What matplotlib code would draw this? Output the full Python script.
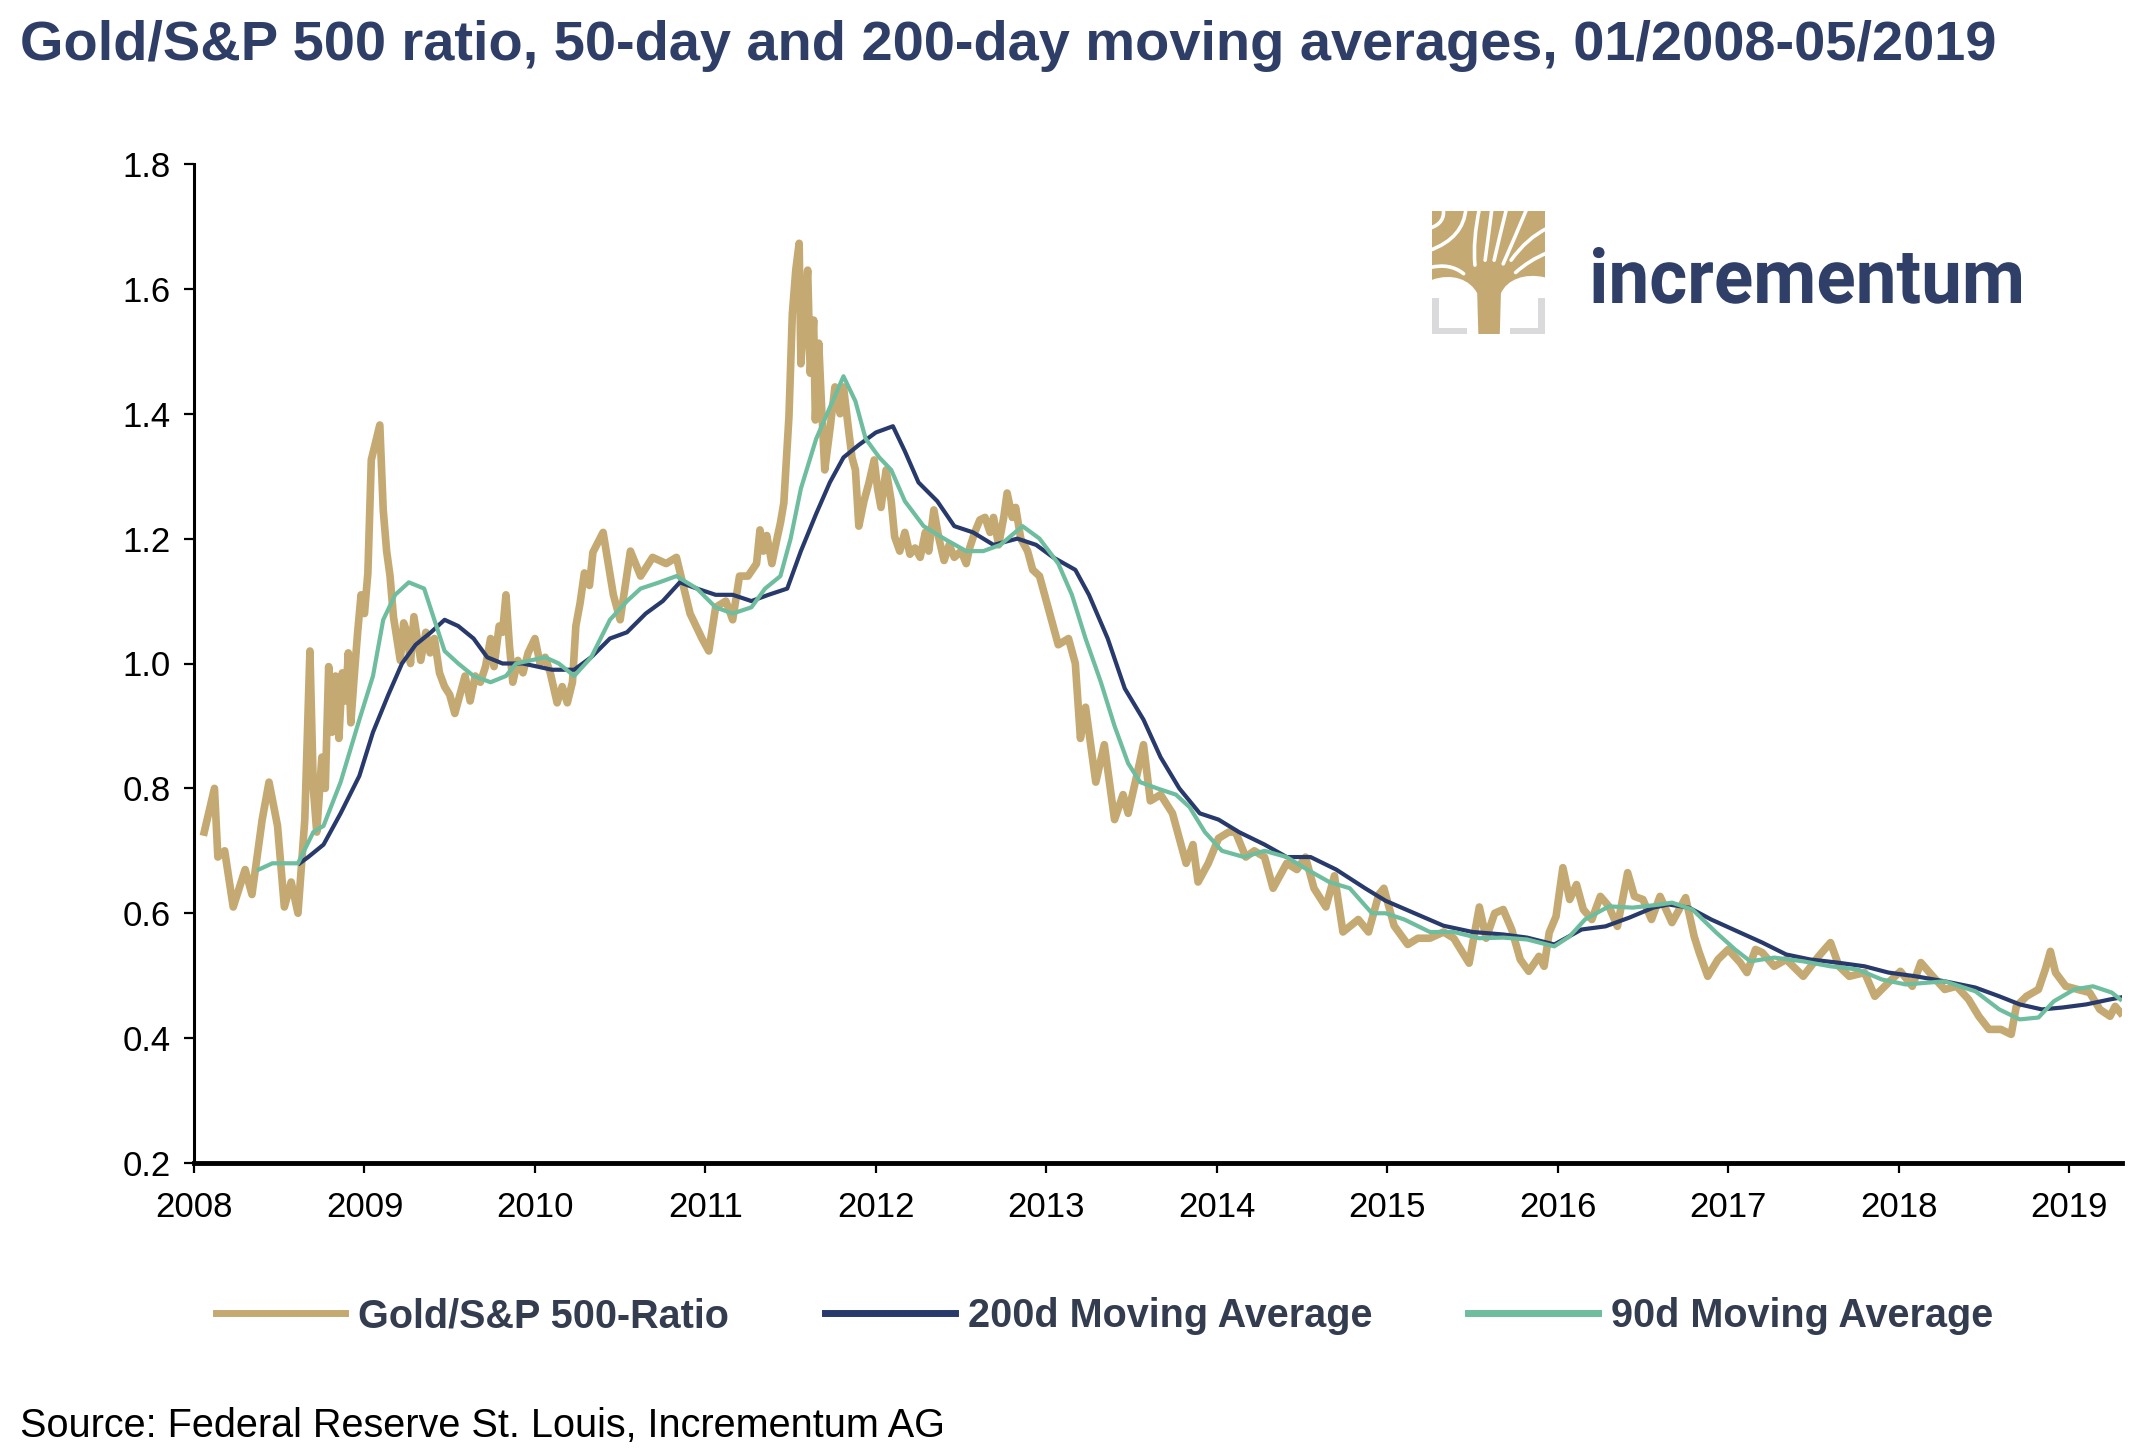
import numpy as np
import matplotlib
matplotlib.use("Agg")
import matplotlib.pyplot as plt
from matplotlib.patches import PathPatch, Rectangle
from matplotlib.path import Path
from matplotlib.textpath import TextPath
from matplotlib.font_manager import FontProperties
from matplotlib.transforms import Affine2D

plt.rcParams['font.family'] = ['Liberation Sans', 'DejaVu Sans']

# ---- data (decimal years) ----
ratio_t = [
    2008.06, 2008.12, 2008.14, 2008.18, 2008.23, 2008.30, 2008.34, 2008.40, 2008.44, 2008.49,
    2008.53, 2008.57, 2008.61, 2008.65, 2008.68, 2008.70, 2008.72, 2008.75, 2008.77, 2008.79,
    2008.81, 2008.83, 2008.85, 2008.87, 2008.89, 2008.905, 2008.92, 2008.94, 2008.96, 2008.98,
    2009.00, 2009.02, 2009.04, 2009.07, 2009.09, 2009.11, 2009.13, 2009.15, 2009.17, 2009.19,
    2009.21, 2009.23, 2009.25, 2009.27, 2009.29, 2009.31, 2009.33, 2009.36, 2009.385, 2009.41,
    2009.44, 2009.47, 2009.50, 2009.53, 2009.56, 2009.59, 2009.62, 2009.65, 2009.68, 2009.71,
    2009.74, 2009.76, 2009.79, 2009.81, 2009.83, 2009.85, 2009.87, 2009.90, 2009.93, 2009.96,
    2010.00, 2010.03, 2010.06, 2010.09, 2010.13, 2010.16, 2010.19, 2010.22, 2010.24, 2010.265,
    2010.29, 2010.32, 2010.34, 2010.40, 2010.46, 2010.50, 2010.56, 2010.62, 2010.69, 2010.77,
    2010.83, 2010.91, 2010.98, 2011.02, 2011.06, 2011.12, 2011.16, 2011.20, 2011.25, 2011.30,
    2011.32, 2011.34, 2011.36, 2011.39, 2011.42, 2011.44, 2011.46, 2011.49, 2011.51, 2011.53,
    2011.55, 2011.56, 2011.58, 2011.60, 2011.615, 2011.635, 2011.645, 2011.665, 2011.68, 2011.70,
    2011.73, 2011.76, 2011.79, 2011.81, 2011.84, 2011.86, 2011.88, 2011.90, 2011.93, 2011.96,
    2011.99, 2012.01, 2012.03, 2012.06, 2012.09, 2012.11, 2012.14, 2012.17, 2012.20, 2012.23,
    2012.26, 2012.29, 2012.31, 2012.34, 2012.37, 2012.40, 2012.43, 2012.46, 2012.50, 2012.53,
    2012.55, 2012.58, 2012.61, 2012.64, 2012.67, 2012.69, 2012.72, 2012.75, 2012.77, 2012.80,
    2012.82, 2012.85, 2012.89, 2012.92, 2012.96, 2013.00, 2013.07, 2013.13, 2013.17,
    2013.20, 2013.23, 2013.29, 2013.34, 2013.40, 2013.45, 2013.48, 2013.53, 2013.57, 2013.61,
    2013.67, 2013.74, 2013.78, 2013.82, 2013.86, 2013.89, 2013.95, 2014.01, 2014.07, 2014.11,
    2014.17, 2014.22, 2014.28, 2014.33, 2014.41, 2014.47, 2014.52, 2014.57, 2014.64, 2014.69,
    2014.74, 2014.83, 2014.89, 2014.95, 2014.98, 2015.04, 2015.12, 2015.18, 2015.25, 2015.33,
    2015.39, 2015.48, 2015.54, 2015.58, 2015.63,
    2015.68, 2015.73, 2015.78, 2015.83, 2015.89, 2015.92, 2015.95, 2015.99, 2016.03, 2016.07,
    2016.11, 2016.15, 2016.20, 2016.25, 2016.30, 2016.35, 2016.41, 2016.45, 2016.50, 2016.55,
    2016.60, 2016.67, 2016.75, 2016.80, 2016.83, 2016.88, 2016.94, 2017.00, 2017.07, 2017.11,
    2017.16, 2017.20, 2017.27, 2017.34, 2017.44, 2017.53, 2017.60, 2017.65, 2017.71, 2017.80,
    2017.86, 2017.94, 2018.01, 2018.08, 2018.13, 2018.20, 2018.27, 2018.34, 2018.41, 2018.47,
    2018.53, 2018.60, 2018.66, 2018.69, 2018.75, 2018.82, 2018.86, 2018.89, 2018.92, 2018.98,
    2019.05, 2019.12, 2019.18, 2019.24, 2019.27, 2019.30,
]
ratio_v = [
    0.73, 0.80, 0.69, 0.70, 0.61, 0.67, 0.63, 0.75, 0.81, 0.74,
    0.61, 0.65, 0.60, 0.75, 1.02, 0.80, 0.73, 0.85, 0.80, 0.995,
    0.89, 0.98, 0.88, 0.985, 0.94, 1.017, 0.905, 0.98, 1.05, 1.11,
    1.08, 1.145, 1.326, 1.36, 1.382, 1.246, 1.18, 1.14, 1.075, 1.04,
    1.005, 1.065, 1.05, 1.00, 1.075, 1.04, 1.005, 1.05, 1.017, 1.04,
    0.985, 0.963, 0.95, 0.92, 0.95, 0.98, 0.94, 0.98, 0.97, 0.995,
    1.04, 0.995, 1.06, 1.05, 1.11, 1.03, 0.97, 1.005, 0.985, 1.017,
    1.04, 1.00, 1.01, 0.985, 0.937, 0.963, 0.937, 0.97, 1.06, 1.097,
    1.145, 1.125, 1.178, 1.21, 1.11, 1.07, 1.18, 1.14, 1.17, 1.16,
    1.17, 1.08, 1.04, 1.02, 1.09, 1.10, 1.07, 1.14, 1.14, 1.16,
    1.214, 1.18, 1.205, 1.16, 1.20, 1.225, 1.257, 1.395, 1.56, 1.63,
    1.673, 1.48, 1.56, 1.63, 1.465, 1.55, 1.39, 1.513, 1.42, 1.31,
    1.374, 1.443, 1.40, 1.443, 1.374, 1.33, 1.31, 1.22, 1.26, 1.29,
    1.326, 1.28, 1.25, 1.31, 1.26, 1.203, 1.18, 1.21, 1.175, 1.185,
    1.17, 1.21, 1.18, 1.246, 1.20, 1.165, 1.19, 1.17, 1.18, 1.16,
    1.185, 1.21, 1.23, 1.234, 1.21, 1.234, 1.19, 1.234, 1.273, 1.234,
    1.25, 1.20, 1.18, 1.15, 1.14, 1.10, 1.03, 1.04, 1.00,
    0.88, 0.93, 0.81, 0.87, 0.75, 0.79, 0.76, 0.82, 0.87, 0.78,
    0.79, 0.76, 0.72, 0.68, 0.71, 0.65, 0.68, 0.72, 0.73, 0.73,
    0.69, 0.70, 0.69, 0.64, 0.68, 0.67, 0.69, 0.64, 0.61, 0.66,
    0.57, 0.59, 0.57, 0.63, 0.64, 0.58, 0.55, 0.56, 0.56, 0.57,
    0.56, 0.52, 0.61, 0.56, 0.60,
    0.606, 0.574, 0.526, 0.507, 0.531, 0.515, 0.569, 0.595, 0.673, 0.622,
    0.646, 0.606, 0.590, 0.627, 0.611, 0.579, 0.665, 0.627, 0.622, 0.590,
    0.627, 0.585, 0.625, 0.563, 0.537, 0.499, 0.526, 0.542, 0.521, 0.505,
    0.542, 0.537, 0.515, 0.526, 0.499, 0.531, 0.553, 0.515, 0.499, 0.505,
    0.467, 0.489, 0.507, 0.483, 0.521, 0.499, 0.478, 0.483, 0.462, 0.435,
    0.414, 0.414, 0.406, 0.451, 0.467, 0.478, 0.510, 0.539, 0.505, 0.483,
    0.478, 0.473, 0.446, 0.435, 0.451, 0.441,
]

ma200_t = [
    2008.62, 2008.67, 2008.76, 2008.86, 2008.97, 2009.05, 2009.14, 2009.22, 2009.30, 2009.39,
    2009.47, 2009.55, 2009.64, 2009.72, 2009.81, 2009.93, 2010.10, 2010.23, 2010.33, 2010.44,
    2010.54, 2010.65, 2010.75, 2010.85, 2010.95, 2011.06, 2011.16, 2011.27, 2011.37, 2011.48,
    2011.56, 2011.65, 2011.73, 2011.81, 2011.90, 2012.00, 2012.10, 2012.17, 2012.25, 2012.36,
    2012.46, 2012.57, 2012.69, 2012.83, 2012.94, 2013.04, 2013.17, 2013.25, 2013.36, 2013.46,
    2013.57, 2013.67, 2013.78, 2013.90, 2014.01, 2014.13, 2014.28, 2014.41, 2014.55, 2014.70,
    2014.87, 2014.99, 2015.16, 2015.33, 2015.50, 2015.68, 2015.82, 2015.98, 2016.14, 2016.28,
    2016.42, 2016.56, 2016.65, 2016.77, 2016.90, 2017.07, 2017.20, 2017.34, 2017.48, 2017.64,
    2017.80, 2017.94, 2018.10, 2018.27, 2018.45, 2018.59, 2018.71, 2018.84, 2018.96, 2019.10,
    2019.24, 2019.30,
]
ma200_v = [
    0.68, 0.69, 0.71, 0.76, 0.82, 0.89, 0.95, 1.00, 1.03, 1.05,
    1.07, 1.06, 1.04, 1.01, 1.00, 1.00, 0.99, 0.99, 1.01, 1.04,
    1.05, 1.08, 1.10, 1.13, 1.12, 1.11, 1.11, 1.10, 1.11, 1.12,
    1.18, 1.24, 1.29, 1.33, 1.35, 1.37, 1.38, 1.34, 1.29, 1.26,
    1.22, 1.21, 1.19, 1.20, 1.19, 1.17, 1.15, 1.11, 1.04, 0.96,
    0.91, 0.85, 0.80, 0.76, 0.75, 0.73, 0.71, 0.69, 0.69, 0.67,
    0.64, 0.62, 0.60, 0.58, 0.57, 0.566, 0.561, 0.550, 0.574, 0.579,
    0.593, 0.609, 0.614, 0.609, 0.590, 0.569, 0.553, 0.534, 0.526, 0.521,
    0.515, 0.505, 0.499, 0.491, 0.481, 0.467, 0.454, 0.446, 0.449, 0.454,
    0.462, 0.465,
]

ma90_t = [
    2008.38, 2008.46, 2008.61, 2008.70, 2008.76, 2008.86, 2008.97, 2009.05, 2009.11, 2009.18,
    2009.26, 2009.35, 2009.41, 2009.47, 2009.55, 2009.64, 2009.74, 2009.83, 2009.89, 2010.06,
    2010.14, 2010.23, 2010.33, 2010.44, 2010.54, 2010.62, 2010.73, 2010.83, 2010.95, 2011.06,
    2011.16, 2011.27, 2011.35, 2011.44, 2011.50, 2011.56, 2011.65, 2011.73, 2011.81, 2011.88,
    2011.94, 2012.02, 2012.09, 2012.17, 2012.28, 2012.40, 2012.53, 2012.63, 2012.73, 2012.86,
    2012.96, 2013.07, 2013.15, 2013.23, 2013.32, 2013.40, 2013.48, 2013.55, 2013.65, 2013.76,
    2013.84, 2013.93, 2014.03, 2014.16, 2014.28, 2014.41, 2014.53, 2014.66, 2014.78, 2014.91,
    2014.99, 2015.10, 2015.25, 2015.39, 2015.54, 2015.68, 2015.82, 2015.98, 2016.07, 2016.16,
    2016.30, 2016.44, 2016.60, 2016.67, 2016.79, 2016.93, 2017.04, 2017.13, 2017.27, 2017.44,
    2017.60, 2017.76, 2017.90, 2018.04, 2018.27, 2018.45, 2018.59, 2018.71, 2018.82, 2018.91,
    2019.03, 2019.14, 2019.25, 2019.30,
]
ma90_v = [
    0.67, 0.68, 0.68, 0.73, 0.74, 0.81, 0.91, 0.98, 1.07, 1.11,
    1.13, 1.12, 1.07, 1.02, 1.00, 0.98, 0.97, 0.98, 1.00, 1.01,
    1.00, 0.98, 1.01, 1.07, 1.10, 1.12, 1.13, 1.14, 1.12, 1.09,
    1.08, 1.09, 1.12, 1.14, 1.20, 1.28, 1.36, 1.41, 1.46, 1.42,
    1.36, 1.33, 1.31, 1.26, 1.22, 1.20, 1.18, 1.18, 1.19, 1.22,
    1.20, 1.16, 1.11, 1.04, 0.97, 0.90, 0.84, 0.81, 0.80, 0.79,
    0.77, 0.73, 0.70, 0.69, 0.70, 0.69, 0.67, 0.65, 0.64, 0.60,
    0.60, 0.59, 0.57, 0.57, 0.56, 0.561, 0.558, 0.547, 0.563, 0.590,
    0.611, 0.609, 0.614, 0.617, 0.606, 0.569, 0.542, 0.523, 0.529, 0.523,
    0.515, 0.510, 0.494, 0.486, 0.491, 0.475, 0.446, 0.430, 0.433, 0.459,
    0.478, 0.483, 0.473, 0.462,
]

years = list(range(2008, 2020))
y_ticks = [0.2, 0.4, 0.6, 0.8, 1.0, 1.2, 1.4, 1.6, 1.8]

labels = ['Gold/S&P 500-Ratio', '200d Moving Average', '90d Moving Average']
title = 'Gold/S&P 500 ratio, 50-day and 200-day moving averages, 01/2008-05/2019'
source = 'Source: Federal Reserve St. Louis, Incrementum AG'

GOLD = '#C4AA72'
NAVY = '#283A6B'
TEAL = '#6DBD9E'
TITLE_C = '#2E3E66'
LEG_C = '#333D4F'

W, H = 2138, 1452
fig = plt.figure(figsize=(W / 100, H / 100), dpi=100)
fig.patch.set_facecolor('white')

ax = fig.add_axes([194 / W, 1 - 1163 / H, (2122 - 194) / W, (1163 - 164) / H])
ax.plot(ratio_t, ratio_v, color=GOLD, lw=5.5, label=labels[0], solid_joinstyle='round')
ax.plot(ma200_t, ma200_v, color=NAVY, lw=3.0, label=labels[1])
ax.plot(ma90_t, ma90_v, color=TEAL, lw=3.0, label=labels[2])

ax.set_xlim(2008, 2019.31)
ax.set_ylim(0.2, 1.8)
ax.set_xticks(years)
ax.set_xticklabels([str(y) for y in years])
ax.set_yticks(y_ticks)
ax.set_yticklabels([f'{v:.1f}' for v in y_ticks])
for s in ['top', 'right']:
    ax.spines[s].set_visible(False)
ax.spines['left'].set_linewidth(2.2)
ax.spines['bottom'].set_linewidth(3.5)
ax.tick_params(axis='x', length=7, width=1.6, pad=13, labelsize=25, direction='out')
ax.tick_params(axis='y', length=7, width=1.6, pad=10, labelsize=25, direction='out')

leg = ax.legend(loc='center', bbox_to_anchor=(0.5166, 1 - 1316 / H), bbox_transform=fig.transFigure,
                ncol=3, frameon=False, prop={'weight': 'bold', 'size': 28.5},
                handlelength=3.28, handletextpad=0.33, columnspacing=2.42, labelcolor=LEG_C)
for ln in leg.get_lines():
    ln.set_linewidth(5)

fig.text(20 / W, 1 - 60 / H, title, fontsize=40.3, fontweight='bold', color=TITLE_C, va='baseline')
fig.text(20 / W, 1 - 1437 / H, source, fontsize=28.5, color='black', va='baseline')

# logo word mark, squeezed to the width of the original
ov = fig.add_axes([0, 0, 1, 1])
ov.set_xlim(0, W)
ov.set_ylim(0, H)
ov.axis('off')
tp = TextPath((0, 0), 'incrementum', size=100,
              prop=FontProperties(family='Roboto', weight='bold'))
ext = tp.get_extents()
sx = (2021 - 1593) / ext.width
sy = 56 / ext.y1
tr = Affine2D().translate(-ext.x0, 0).scale(sx, sy).translate(1593, H - 303)
ov.add_patch(PathPatch(tr.transform_path(tp), facecolor='#2F3F67', lw=0))

# tree icon
icon = fig.add_axes([1432 / W, 1 - 334 / H, 113 / W, 123 / H])
icon.set_xlim(0, 1)
icon.set_ylim(0, 1)
icon.axis('off')
grey = '#DADADD'
for r in [(0, 0, 0.06, 0.29), (0, 0, 0.31, 0.05), (0.94, 0, 0.06, 0.29), (0.69, 0, 0.31, 0.05)]:
    icon.add_patch(Rectangle(r[:2], r[2], r[3], color=grey, lw=0))
canopy = Path(
    [(0, 1), (1, 1), (1, 0.46), (0.82, 0.50), (0.66, 0.44), (0.61, 0.33), (0.60, 0), (0.41, 0),
     (0.40, 0.33), (0.34, 0.44), (0.18, 0.50), (0, 0.44), (0, 1)],
    [Path.MOVETO, Path.LINETO, Path.LINETO, Path.CURVE4, Path.CURVE4, Path.CURVE4, Path.LINETO,
     Path.LINETO, Path.LINETO, Path.CURVE4, Path.CURVE4, Path.CURVE4, Path.CLOSEPOLY])
icon.add_patch(PathPatch(canopy, facecolor=GOLD, lw=0))
gaps = [
    [(0.10, 1.02), (0.12, 0.90), (-0.02, 0.86)],
    [(0.30, 1.02), (0.28, 0.78), (-0.02, 0.68)],
    [(0.42, 1.02), (0.36, 0.76), (0.38, 0.56)],
    [(0.53, 1.02), (0.50, 0.80), (0.47, 0.60)],
    [(0.66, 1.02), (0.60, 0.80), (0.55, 0.60)],
    [(0.84, 1.02), (0.74, 0.80), (0.63, 0.57)],
    [(1.02, 0.86), (0.84, 0.78), (0.70, 0.60)],
    [(1.02, 0.66), (0.86, 0.60), (0.74, 0.50)],
    [(-0.02, 0.54), (0.16, 0.58), (0.28, 0.49)],
]
for g in gaps:
    icon.add_patch(PathPatch(Path(g, [Path.MOVETO, Path.CURVE3, Path.CURVE3]),
                             facecolor='none', edgecolor='white', lw=2.6, capstyle='round'))

fig.savefig('out.png', dpi=100)
